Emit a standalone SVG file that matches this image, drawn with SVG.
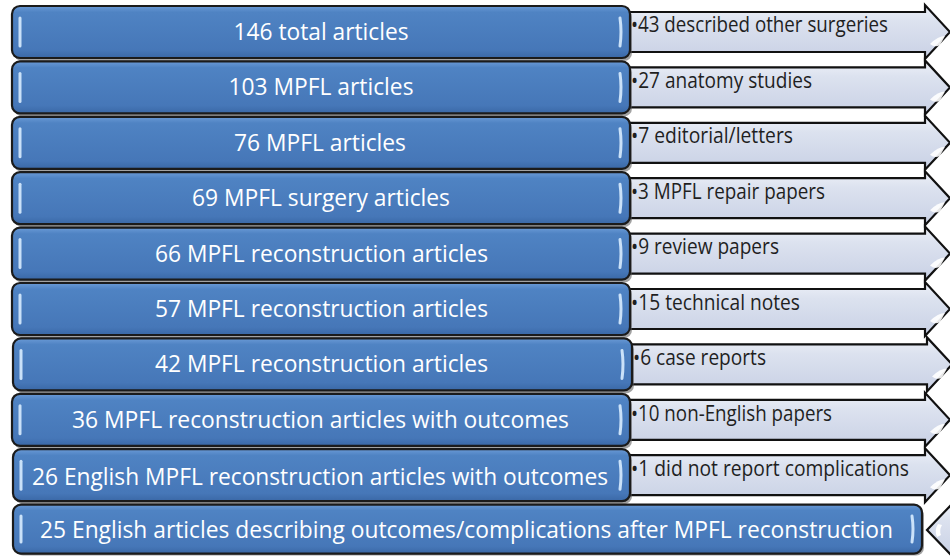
<svg xmlns="http://www.w3.org/2000/svg" width="950" height="557" viewBox="0 0 950 557">
<defs>
<linearGradient id="gBlue" x1="0" y1="0" x2="0" y2="1">
<stop offset="0" stop-color="#6a9ad6"/>
<stop offset="0.12" stop-color="#4f83c3"/>
<stop offset="0.85" stop-color="#4677b8"/>
<stop offset="1" stop-color="#3a68a6"/>
</linearGradient>
<linearGradient id="gArrow" x1="0" y1="0" x2="0" y2="1">
<stop offset="0" stop-color="#eef1f8"/>
<stop offset="0.3" stop-color="#dce2ef"/>
<stop offset="1" stop-color="#c9d1e5"/>
</linearGradient>
<g id="arrowShape">
<path d="M600 6 L925 6 L925 -1 L950 26 L925 53 L925 46 L600 46 Z" fill="url(#gArrow)" stroke="#111" stroke-width="2.2" stroke-linejoin="miter"/>
<path d="M930 38 Q938 30 945 30 L940 39 Q935 42 930 38 Z" fill="#ffffff" opacity="0.9"/>
</g>
</defs>
<style>
.box{fill:url(#gBlue);stroke:#1b1b1b;stroke-width:2.2}
.shadow{fill:#555;opacity:0.55}
.hl{fill:none;stroke:#d8ecff;stroke-width:3;stroke-linecap:round;opacity:0.9}
.bt{font-family:"Open Sans","Noto Sans",sans-serif;font-size:23px;fill:#ffffff;text-anchor:middle}
.at{font-family:"Open Sans","Noto Sans",sans-serif;font-size:21px;fill:#1f1f1f}
</style>

<g id="connectors">
<use href="#arrowShape" transform="translate(0,6)"/>
<use href="#arrowShape" transform="translate(0,61.4)"/>
<use href="#arrowShape" transform="translate(0,116.8)"/>
<use href="#arrowShape" transform="translate(0,172.2)"/>
<use href="#arrowShape" transform="translate(0,227.6)"/>
<use href="#arrowShape" transform="translate(0,283)"/>
<use href="#arrowShape" transform="translate(2,338.4)"/>
<use href="#arrowShape" transform="translate(0,393.8)"/>
<use href="#arrowShape" transform="translate(0,449.2)"/>
<g id="arrow-last">
<path d="M952 504 L927 530 L952 556 Z" fill="url(#gArrow)" stroke="#111" stroke-width="2.2"/>
<path d="M938 524 Q934 530 937 537 L941 535 Q939 530 942 525 Z" fill="#ffffff"/>
</g>
</g>

<g id="notes">
<text class="at" x="631" y="32" textLength="257" lengthAdjust="spacingAndGlyphs">•43 described other surgeries</text>
<text class="at" x="631" y="87.5" textLength="181" lengthAdjust="spacingAndGlyphs">•27 anatomy studies</text>
<text class="at" x="631" y="143" textLength="162" lengthAdjust="spacingAndGlyphs">•7 editorial/letters</text>
<text class="at" x="631" y="198.5" textLength="194" lengthAdjust="spacingAndGlyphs">•3 MPFL repair papers</text>
<text class="at" x="631" y="254" textLength="148" lengthAdjust="spacingAndGlyphs">•9 review papers</text>
<text class="at" x="631" y="309.5" textLength="169" lengthAdjust="spacingAndGlyphs">•15 technical notes</text>
<text class="at" x="633" y="365" textLength="133" lengthAdjust="spacingAndGlyphs">•6 case reports</text>
<text class="at" x="631" y="420.5" textLength="201" lengthAdjust="spacingAndGlyphs">•10 non-English papers</text>
<text class="at" x="631" y="476" textLength="278" lengthAdjust="spacingAndGlyphs">•1 did not report complications</text>
</g>

<g id="n1">
<rect class="shadow" x="14" y="9" width="618" height="52" rx="8"/>
<rect class="box" x="12" y="6" width="618" height="52" rx="8"/>
<path class="hl" d="M20 18 L20 46"/><path class="hl" d="M620 18 Q622 32 620 46"/>
<text class="bt" x="321" y="40" textLength="175" lengthAdjust="spacingAndGlyphs">146 total articles</text>
</g>
<g id="n2">
<rect class="shadow" x="14" y="64.4" width="618" height="52" rx="8"/>
<rect class="box" x="12" y="61.4" width="618" height="52" rx="8"/>
<path class="hl" d="M20 73.4 L20 101.4"/><path class="hl" d="M620 73.4 Q622 87.4 620 101.4"/>
<text class="bt" x="321" y="95.4" textLength="185" lengthAdjust="spacingAndGlyphs">103 MPFL articles</text>
</g>
<g id="n3">
<rect class="shadow" x="14" y="119.8" width="618" height="52" rx="8"/>
<rect class="box" x="12" y="116.8" width="618" height="52" rx="8"/>
<path class="hl" d="M20 128.8 L20 156.8"/><path class="hl" d="M620 128.8 Q622 142.8 620 156.8"/>
<text class="bt" x="320" y="150.8" textLength="172" lengthAdjust="spacingAndGlyphs">76 MPFL articles</text>
</g>
<g id="n4">
<rect class="shadow" x="14" y="175.2" width="618" height="52" rx="8"/>
<rect class="box" x="12" y="172.2" width="618" height="52" rx="8"/>
<path class="hl" d="M20 184.2 L20 212.2"/><path class="hl" d="M620 184.2 Q622 198.2 620 212.2"/>
<text class="bt" x="321" y="206.2" textLength="258" lengthAdjust="spacingAndGlyphs">69 MPFL surgery articles</text>
</g>
<g id="n5">
<rect class="shadow" x="14" y="230.6" width="618" height="52" rx="8"/>
<rect class="box" x="12" y="227.6" width="618" height="52" rx="8"/>
<path class="hl" d="M20 239.6 L20 267.6"/><path class="hl" d="M620 239.6 Q622 253.6 620 267.6"/>
<text class="bt" x="321.5" y="261.6" textLength="333" lengthAdjust="spacingAndGlyphs">66 MPFL reconstruction articles</text>
</g>
<g id="n6">
<rect class="shadow" x="14" y="286" width="618" height="52" rx="8"/>
<rect class="box" x="12" y="283" width="618" height="52" rx="8"/>
<path class="hl" d="M20 295 L20 323"/><path class="hl" d="M620 295 Q622 309 620 323"/>
<text class="bt" x="321.5" y="317" textLength="333" lengthAdjust="spacingAndGlyphs">57 MPFL reconstruction articles</text>
</g>
<g id="n7">
<rect class="shadow" x="15" y="341.4" width="619" height="52" rx="8"/>
<rect class="box" x="13" y="338.4" width="619" height="52" rx="8"/>
<path class="hl" d="M21 350.4 L21 378.4"/><path class="hl" d="M622 350.4 Q624 364.4 622 378.4"/>
<text class="bt" x="321.5" y="372.4" textLength="333" lengthAdjust="spacingAndGlyphs">42 MPFL reconstruction articles</text>
</g>
<g id="n8">
<rect class="shadow" x="14" y="396.8" width="618" height="52" rx="8"/>
<rect class="box" x="12" y="393.8" width="618" height="52" rx="8"/>
<path class="hl" d="M20 405.8 L20 433.8"/><path class="hl" d="M620 405.8 Q622 419.8 620 433.8"/>
<text class="bt" x="320.5" y="427.8" textLength="497" lengthAdjust="spacingAndGlyphs">36 MPFL reconstruction articles with outcomes</text>
</g>
<g id="n9">
<rect class="shadow" x="15" y="452.2" width="617" height="52" rx="8"/>
<rect class="box" x="13" y="449.2" width="617" height="52" rx="8"/>
<path class="hl" d="M21 461.2 L21 489.2"/><path class="hl" d="M620 461.2 Q622 475.2 620 489.2"/>
<text class="bt" x="320" y="485" textLength="576" lengthAdjust="spacingAndGlyphs">26 English MPFL reconstruction articles with outcomes</text>
</g>
<g id="n10">
<rect class="shadow" x="15" y="507.6" width="909" height="48" rx="8"/>
<rect class="box" x="13" y="504.6" width="909" height="49" rx="8"/>
<path class="hl" d="M21 516 L21 542"/><path class="hl" d="M912 516 Q914 529 912 542"/>
<text class="bt" x="466.5" y="538" textLength="853" lengthAdjust="spacingAndGlyphs">25 English articles describing outcomes/complications after MPFL reconstruction</text>
</g>
</svg>
